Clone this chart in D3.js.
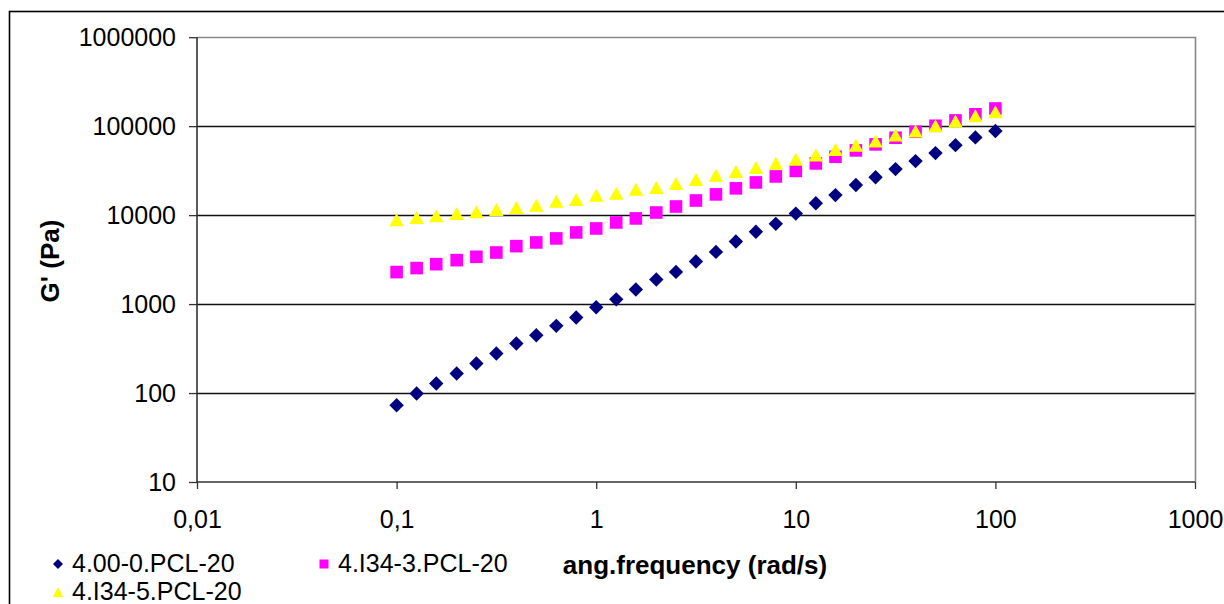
<!DOCTYPE html>
<html>
<head>
<meta charset="utf-8">
<script src="https://cdn.jsdelivr.net/npm/d3@7"></script>
<style>
  html, body { margin: 0; padding: 0; background: #fff; }
  svg { display: block; font-family: "Liberation Sans", Arial, sans-serif; }
</style>
</head>
<body>
<svg id="chart" width="1224" height="604"></svg>
<script>
// Angular frequency sweep (rad/s)
const frequency = [0.1, 0.126, 0.158, 0.2, 0.251, 0.316, 0.398, 0.501, 0.631, 0.794,
  1, 1.26, 1.58, 2, 2.51, 3.16, 3.98, 5.01, 6.31, 7.94,
  10, 12.6, 15.8, 20, 25.1, 31.6, 39.8, 50.1, 63.1, 79.4, 100];

// Storage modulus G' (Pa) per sample
const g_400_0 = [73, 99, 128, 166, 215, 278, 360, 447, 569, 706,
  920, 1130, 1460, 1890, 2300, 3010, 3860, 5060, 6490, 7980,
  10400, 13600, 16800, 21800, 26700, 32900, 40500, 49800, 61200, 74800, 88200];
const g_I34_3 = [2290, 2540, 2810, 3120, 3400, 3800, 4480, 4930, 5470, 6390,
  7080, 8270, 9180, 10700, 12500, 14600, 17100, 20000, 23300, 27200,
  31400, 38100, 45300, 53400, 62400, 74100, 86500, 101000, 116000, 136000, 158000];
const g_I34_5 = [8850, 9420, 9820, 10400, 10900, 11600, 12200, 12900, 14300, 15000,
  16700, 17600, 19500, 20500, 22700, 25200, 28000, 31000, 34400, 38200,
  42500, 47300, 54800, 61200, 67900, 79400, 88200, 101000, 114000, 131000, 145000];

const seriesNames = ["4.00-0.PCL-20", "4.I34-3.PCL-20", "4.I34-5.PCL-20"];

const xTickValues = [0.01, 0.1, 1, 10, 100, 1000];
const xTickLabels = ["0,01", "0,1", "1", "10", "100", "1000"];
const yTickValues = [10, 100, 1000, 10000, 100000, 1000000];
const yTickLabels = ["10", "100", "1000", "10000", "100000", "1000000"];

const svg = d3.select("#chart");

const plot = { left: 197, right: 1195, top: 37.2, bottom: 482 };
const x = d3.scaleLog().domain([0.01, 1000]).range([plot.left, plot.right]);
const y = d3.scaleLog().domain([10, 1000000]).range([plot.bottom, plot.top]);

const labelFont = "25px";
const titleFont = "26px";

// Outer chart frame
svg.append("rect")
  .attr("x", 9.5).attr("y", 11.5)
  .attr("width", 1300).attr("height", 700)
  .attr("fill", "none").attr("stroke", "#000").attr("stroke-width", 1.6);

// Horizontal gridlines
svg.append("g")
  .selectAll("line")
  .data(yTickValues.slice(1, -1))
  .join("line")
  .attr("x1", plot.left).attr("x2", plot.right)
  .attr("y1", d => Math.round(y(d)) + 0.5).attr("y2", d => Math.round(y(d)) + 0.5)
  .attr("stroke", "#111").attr("stroke-width", 1.3);

// Plot area border (top and right)
svg.append("path")
  .attr("d", `M${plot.left},${Math.round(plot.top) + 0.5}H${plot.right + 0.5}V${plot.bottom}`)
  .attr("fill", "none").attr("stroke", "#888").attr("stroke-width", 1.6);

// Y axis
const yAxis = d3.axisLeft(y)
  .tickValues(yTickValues)
  .tickFormat((d, i) => yTickLabels[i])
  .tickSize(8)
  .tickPadding(13);
const gy = svg.append("g")
  .attr("transform", `translate(${plot.left},0)`)
  .call(yAxis);
gy.select(".domain").attr("stroke", "#333").attr("stroke-width", 1.6).attr("d", `M0,${plot.top}V${plot.bottom}`);
gy.selectAll(".tick line").attr("stroke", "#333").attr("stroke-width", 1.3);
gy.selectAll(".tick text")
  .attr("fill", "#000")
  .style("font-size", labelFont)
  .style("font-family", "'Liberation Sans', Arial, sans-serif");

// X axis
const xAxis = d3.axisBottom(x)
  .tickValues(xTickValues)
  .tickFormat((d, i) => xTickLabels[i])
  .tickSize(7)
  .tickPadding(21);
const gx = svg.append("g")
  .attr("transform", `translate(0,${plot.bottom})`)
  .call(xAxis);
gx.select(".domain").attr("stroke", "#333").attr("stroke-width", 1.6).attr("d", `M${plot.left},0H${plot.right}`);
gx.selectAll(".tick line").attr("stroke", "#333").attr("stroke-width", 1.3);
gx.selectAll(".tick text")
  .attr("fill", "#000")
  .style("font-size", labelFont)
  .style("font-family", "'Liberation Sans', Arial, sans-serif");

// Axis titles
svg.append("text")
  .attr("transform", `translate(59,261) rotate(-90)`)
  .attr("text-anchor", "middle")
  .style("font-size", titleFont).style("font-weight", "bold")
  .text("G' (Pa)");

svg.append("text")
  .attr("x", 695).attr("y", 574)
  .attr("text-anchor", "middle")
  .style("font-size", titleFont).style("font-weight", "bold")
  .text("ang.frequency (rad/s)");

// Marker shapes
const diamond = s => `M0,${-s}L${s},0L0,${s}L${-s},0Z`;
const square = s => `M${-s},${-s}H${s}V${s}H${-s}Z`;
const triangle = (w, h) => `M0,${-h / 2}L${w / 2},${h / 2}L${-w / 2},${h / 2}Z`;

const series = [
  { name: seriesNames[0], values: g_400_0, color: "#000080", shape: diamond(7.2), legendShape: diamond(5) },
  { name: seriesNames[1], values: g_I34_3, color: "#FF00FF", shape: square(6.3), legendShape: square(4.5) },
  { name: seriesNames[2], values: g_I34_5, color: "#FFFF00", shape: triangle(14.5, 13), legendShape: triangle(10.5, 10) }
];

series.forEach(s => {
  svg.append("g")
    .selectAll("path")
    .data(frequency.map((f, i) => [f, s.values[i]]))
    .join("path")
    .attr("transform", d => `translate(${x(d[0])},${y(d[1])})`)
    .attr("d", s.shape)
    .attr("fill", s.color);
});

// Legend
const legendPos = [[58, 564], [324, 564], [58, 592]];
const legend = svg.append("g");
series.forEach((s, i) => {
  const [lx, ly] = legendPos[i];
  legend.append("path")
    .attr("transform", `translate(${lx},${ly})`)
    .attr("d", s.legendShape)
    .attr("fill", s.color);
  legend.append("text")
    .attr("x", lx + 14).attr("y", ly + 8)
    .style("font-size", labelFont)
    .text(s.name);
});
</script>
</body>
</html>
